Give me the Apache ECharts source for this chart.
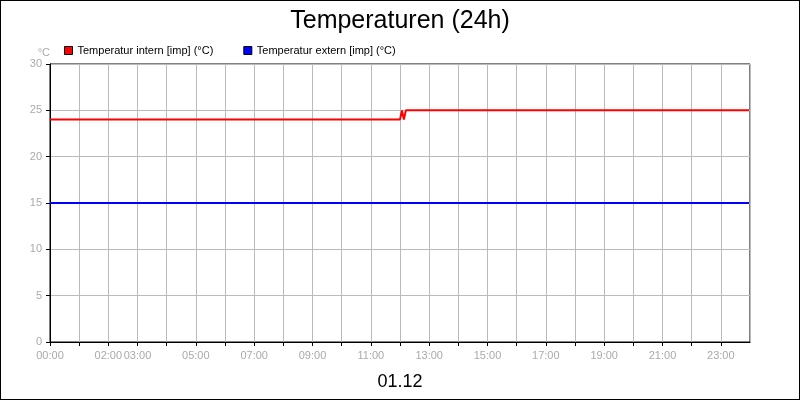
<!DOCTYPE html>
<html><head><meta charset="utf-8">
<script src="https://cdn.jsdelivr.net/npm/echarts@6/dist/echarts.min.js"></script>
<style>body{margin:0}#c{width:798px;height:398px;border:1px solid #000}</style>
</head><body><div id="c"></div>
<script>
const shownHours = [0,2,3,5,7,9,11,13,15,17,19,21,23];
const internTimes = [0, 720, 724, 728, 732, 1438];
const internValues = [24, 24, 25, 24, 25, 25];
const externTimes = [0, 1438];
const externValues = [15, 15];
const F = 'Liberation Sans';
const chart = echarts.init(document.getElementById('c'));
const pad = n => (n<10?'0':'')+n;
chart.setOption({
  animation:false,
  title:[{text:'Temperaturen (24h)',left:'center',top:3,textStyle:{fontFamily:F,fontWeight:'normal',fontSize:25,color:'#000'}},
         {text:'01.12',left:'center',top:367,textStyle:{fontFamily:F,fontWeight:'normal',fontSize:18,color:'#000'}}],
  legend:{left:58,top:39,itemWidth:8,itemHeight:8,itemGap:30,icon:'rect',
    textStyle:{fontFamily:F,fontSize:11,color:'#000'},
    data:[{name:'Temperatur intern [imp] (°C)',itemStyle:{color:'#f00',borderColor:'#000',borderWidth:1}},
          {name:'Temperatur extern [imp] (°C)',itemStyle:{color:'#00f',borderColor:'#000',borderWidth:1}}]},
  grid:{left:49,right:49,top:63,bottom:57,show:true,borderColor:'#000',borderWidth:1},
  xAxis:{type:'value',min:0,max:1440,interval:60,
    axisLine:{lineStyle:{color:'#000'}},axisTick:{show:true,length:4,lineStyle:{color:'#000'}},
    splitLine:{show:true,lineStyle:{color:'#bbb'}},
    axisLabel:{color:'#aaa',fontFamily:F,fontSize:11,showMaxLabel:false,
      formatter:v=>{const h=v/60;return shownHours.includes(h)?pad(h)+':00':'';}}},
  yAxis:{type:'value',min:0,max:30,interval:5,name:'°C',nameLocation:'end',nameGap:6,
    nameTextStyle:{color:'#aaa',fontFamily:F,fontSize:11,align:'right'},
    axisLine:{show:true,lineStyle:{color:'#000'}},axisTick:{show:true,length:4,lineStyle:{color:'#000'}},
    splitLine:{lineStyle:{color:'#bbb'}},
    axisLabel:{color:'#aaa',fontFamily:F,fontSize:11}},
  series:[
    {name:'Temperatur intern [imp] (°C)',type:'line',symbol:'none',color:'#f00',lineStyle:{width:2,color:'#f00'},
     data:internTimes.map((t,i)=>[t,internValues[i]])},
    {name:'Temperatur extern [imp] (°C)',type:'line',symbol:'none',color:'#00f',lineStyle:{width:2,color:'#00f'},
     data:externTimes.map((t,i)=>[t,externValues[i]])}
  ]
});
</script></body></html>
